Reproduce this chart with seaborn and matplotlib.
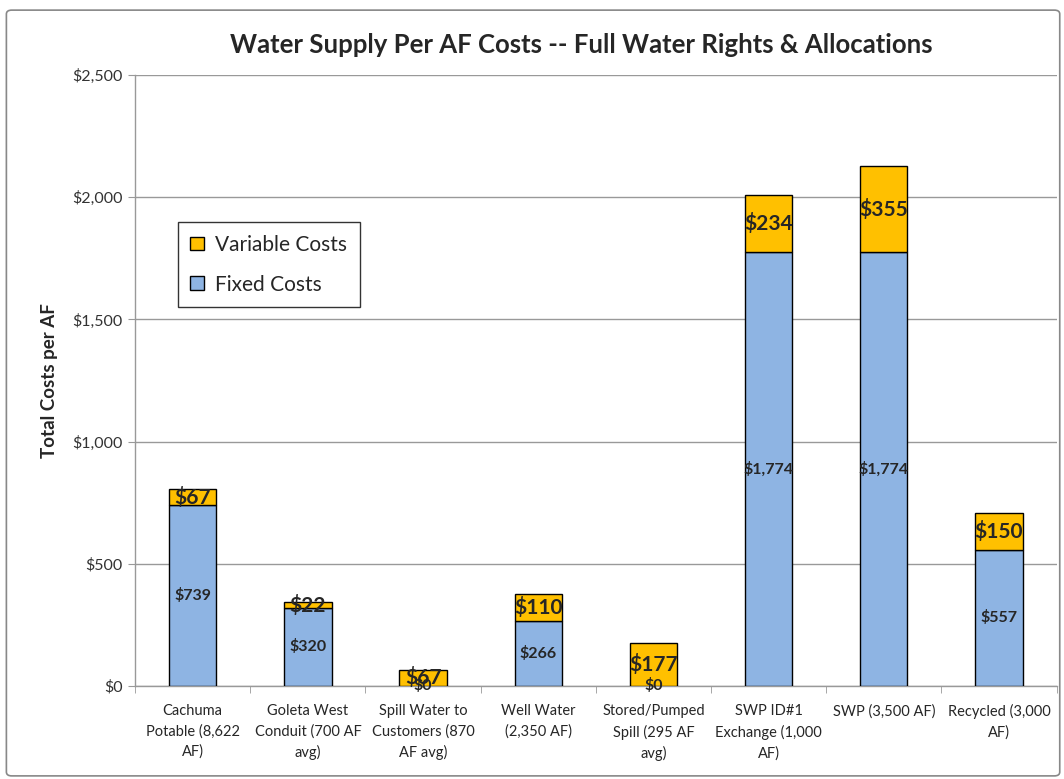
import matplotlib
matplotlib.use("Agg")
import matplotlib.pyplot as plt
import seaborn as sns
import pandas as pd
import numpy as np
from matplotlib.patches import Patch, FancyBboxPatch

categories = ["Cachuma\nPotable (8,622\nAF)", "Goleta West\nConduit (700 AF\navg)",
              "Spill Water to\nCustomers (870\nAF avg)", "Well Water\n(2,350 AF)",
              "Stored/Pumped\nSpill (295 AF\navg)", "SWP ID#1\nExchange (1,000\nAF)",
              "SWP (3,500 AF)", "Recycled (3,000\nAF)"]
fixed_costs = [739, 320, 0, 266, 0, 1774, 1774, 557]
variable_costs = [67, 22, 67, 110, 177, 234, 355, 150]
y_ticks = [0, 500, 1000, 1500, 2000, 2500]

sns.set_style("white")
plt.rcParams['font.family'] = ['Lato', 'DejaVu Sans']

BLUE = "#8EB4E3"
ORANGE = "#FFC000"

df = pd.DataFrame({"cat": categories, "fixed": fixed_costs, "variable": variable_costs})

fig = plt.figure(figsize=(10.64, 7.79), dpi=100)
ax = fig.add_axes([0.127, 0.1194, 0.866, 0.7843])

sns.barplot(data=df, x="cat", y="fixed", color=BLUE, edgecolor="black", linewidth=1.0,
            width=0.41, saturation=1, ax=ax, zorder=3)
sns.barplot(data=df, x="cat", y="variable", color=ORANGE, edgecolor="black", linewidth=1.0,
            width=0.41, saturation=1, bottom=np.array(fixed_costs), ax=ax, zorder=3)

for i, (f, v) in enumerate(zip(fixed_costs, variable_costs)):
    ax.text(i, f / 2, f"${f:,}", ha="center", va="center", fontsize=11.5,
            fontweight="bold", zorder=5)
    ax.text(i, f + v / 2, f"${v:,}", ha="center", va="center", fontsize=15,
            fontweight="bold", zorder=5)

ax.set_ylim(0, 2500)
ax.set_xlim(-0.5, len(categories) - 0.5)
ax.set_yticks(y_ticks)
ax.set_yticklabels([f"${t:,}" for t in y_ticks], fontsize=11.5, color="#333333")
ax.yaxis.grid(True, color="#999999", linewidth=1.0, zorder=0)
ax.set_axisbelow(True)
ax.tick_params(axis="y", length=5, color="#999999", direction="out", left=True, pad=4)

ax.set_xticks(range(len(categories)))
ax.set_xticklabels(categories, fontsize=10.5, linespacing=1.55)
ax.tick_params(axis="x", length=0, pad=13)
ax.set_xticks(np.arange(-0.5, len(categories), 1.0), minor=True)
ax.tick_params(axis="x", which="minor", length=5, color="#999999", bottom=True)

ax.set_xlabel("")
ax.set_ylabel("Total Costs per AF", fontsize=13.5, fontweight="bold", labelpad=10)

for s in ["top", "right"]:
    ax.spines[s].set_visible(False)
for s in ["left", "bottom"]:
    ax.spines[s].set_color("#999999")
    ax.spines[s].set_linewidth(1.0)

handles = [Patch(facecolor=ORANGE, edgecolor="black", label="Variable Costs"),
           Patch(facecolor=BLUE, edgecolor="black", label="Fixed Costs")]
leg = ax.legend(handles=handles, loc="upper left", bbox_to_anchor=(0.035, 0.776),
                fontsize=15, frameon=True, fancybox=False, edgecolor="black",
                handlelength=0.65, handleheight=0.65, handletextpad=0.55,
                borderpad=0.6, labelspacing=0.95)
leg.get_frame().set_linewidth(1.0)

fig.suptitle("Water Supply Per AF Costs -- Full Water Rights & Allocations",
             x=0.546, y=0.958, fontsize=18.5, fontweight="bold")

border = FancyBboxPatch((0.006, 0.004), 0.99, 0.983, boxstyle="round,pad=0,rounding_size=0.005",
                        transform=fig.transFigure, fill=False, edgecolor="#888888",
                        linewidth=1.2)
fig.patches.append(border)

fig.savefig("out.png", dpi=100)
